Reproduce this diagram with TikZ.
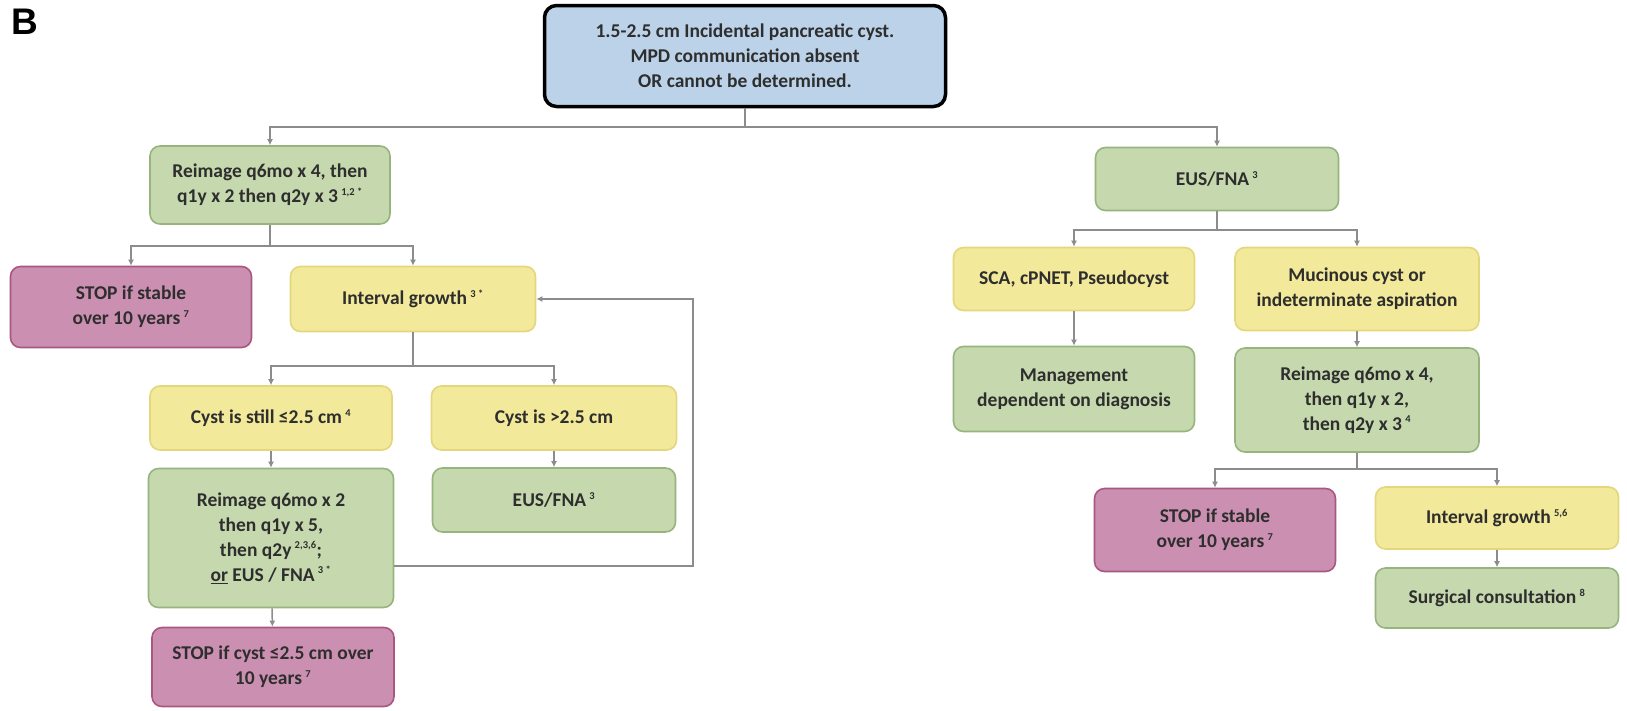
\documentclass[tikz,border=0pt]{standalone}
\usepackage{fontspec}
\setmainfont{Carlito}
\newfontfamily\labelfont{Liberation Sans}
\usetikzlibrary{arrows.meta}
\definecolor{gfill}{HTML}{C6D9AE}
\definecolor{gdraw}{HTML}{97B47E}
\definecolor{yfill}{HTML}{F3E99A}
\definecolor{ydraw}{HTML}{E3D67C}
\definecolor{pfill}{HTML}{CB90B1}
\definecolor{pdraw}{HTML}{A9577F}
\definecolor{bfill}{HTML}{BBD2E8}
\definecolor{txt}{HTML}{2E2E2E}
\definecolor{lin}{HTML}{8C8C8C}
\tikzset{
  box/.style={rounded corners=10pt, line width=1.6pt, align=center, inner sep=2pt,
    font=\bfseries\fontsize{19.5}{25}\selectfont, text=txt},
  gbox/.style={box, fill=gfill, draw=gdraw},
  ybox/.style={box, fill=yfill, draw=ydraw},
  pbox/.style={box, fill=pfill, draw=pdraw},
  bbox/.style={box, fill=bfill, draw=black, line width=3.5pt, rounded corners=12pt},
  conn/.style={draw=lin, line width=1.5pt},
  arr/.style={conn, -{Latex[length=6pt,width=6pt]}},
  sz/.style 2 args={minimum width=#1pt, minimum height=#2pt}
}
\newcommand{\sps}[1]{\,\textsuperscript{\fontsize{10.5}{10.5}\selectfont #1}}
\begin{document}
\begin{tikzpicture}[x=1pt,y=-1pt]
\useasboundingbox (0,0) rectangle (1627,710);
\node[font=\labelfont\bfseries\fontsize{37}{37}\selectfont] (lab) at (25,22) {B};
\node[bbox, sz={401}{101}] (top) at (745,56) {1.5-2.5 cm Incidental pancreatic cyst.\\MPD communication absent\\OR cannot be determined.};
\node[gbox, sz={240}{78}] (L1) at (270,185) {Reimage q6mo x 4, then\\q1y x 2 then q2y x 3\sps{1,2 *}};
\node[gbox, sz={243}{63}] (R1) at (1217,179) {EUS/FNA\sps{3}};
\node[pbox, sz={241}{81}] (stopL) at (131,307) {STOP if stable\\over 10 years\sps{7}};
\node[ybox, sz={245}{65}] (intL) at (413,299) {Interval growth\sps{3 *}};
\node[ybox, sz={242}{64}] (cystA) at (271,418) {Cyst is still ≤2.5 cm\sps{4}};
\node[ybox, sz={245}{64}] (cystB) at (554,418) {Cyst is >2.5 cm};
\node[gbox, sz={245}{139}] (reim2) at (271,538) {Reimage q6mo x 2\\then q1y x 5,\\then q2y\sps{2,3,6};\\\underline{or} EUS / FNA\sps{3 *}};
\node[gbox, sz={243}{64}] (eusM) at (554,500) {EUS/FNA\sps{3}};
\node[pbox, sz={242}{79}] (stopB) at (273,667) {STOP if cyst ≤2.5 cm over\\10 years\sps{7}};
\node[ybox, sz={241}{63}] (sca) at (1074,279) {SCA, cPNET, Pseudocyst};
\node[ybox, sz={244}{83}] (muc) at (1357,289) {Mucinous cyst or\\indeterminate aspiration};
\node[gbox, sz={241}{85}] (mgmt) at (1074,389) {Management\\dependent on diagnosis};
\node[gbox, sz={244}{104}] (reimR) at (1357,400) {Reimage q6mo x 4,\\then q1y x 2,\\then q2y x 3\sps{4}};
\node[pbox, sz={241}{83}] (stopR) at (1215,530) {STOP if stable\\over 10 years\sps{7}};
\node[ybox, sz={243}{62}] (intR) at (1497,518) {Interval growth\sps{5,6}};
\node[gbox, sz={243}{60}] (surg) at (1497,598) {Surgical consultation\sps{8}};
% branch rows
\coordinate (r0) at (0,127);
\coordinate (r1) at (0,246);
\coordinate (r2) at (0,366);
\coordinate (r3) at (0,230);
\coordinate (r4) at (0,469);
\coordinate (lx) at (693,0);
\draw[conn] (top.south) -- (top.south |- r0);
\draw[arr] (top.south |- r0) -| (L1.north);
\draw[arr] (top.south |- r0) -| (R1.north);
\draw[conn] (L1.south) -- (L1.south |- r1);
\draw[arr] (L1.south |- r1) -| (stopL.north);
\draw[arr] (L1.south |- r1) -| (intL.north);
\draw[conn] (intL.south) -- (intL.south |- r2);
\draw[arr] (intL.south |- r2) -| (cystA.north);
\draw[arr] (intL.south |- r2) -| (cystB.north);
\draw[arr] (cystA) -- (reim2);
\draw[arr] (cystB) -- (eusM);
\draw[arr] (reim2) -- (stopB);
\draw[arr] ([yshift=-28pt]reim2.east) -| (lx |- intL.east) -- (intL.east);
\draw[conn] (R1.south) -- (R1.south |- r3);
\draw[arr] (R1.south |- r3) -| (sca.north);
\draw[arr] (R1.south |- r3) -| (muc.north);
\draw[arr] (sca) -- (mgmt);
\draw[arr] (muc) -- (reimR);
\draw[conn] (reimR.south) -- (reimR.south |- r4);
\draw[arr] (reimR.south |- r4) -| (stopR.north);
\draw[arr] (reimR.south |- r4) -| (intR.north);
\draw[arr] (intR) -- (surg);
\end{tikzpicture}
\end{document}
